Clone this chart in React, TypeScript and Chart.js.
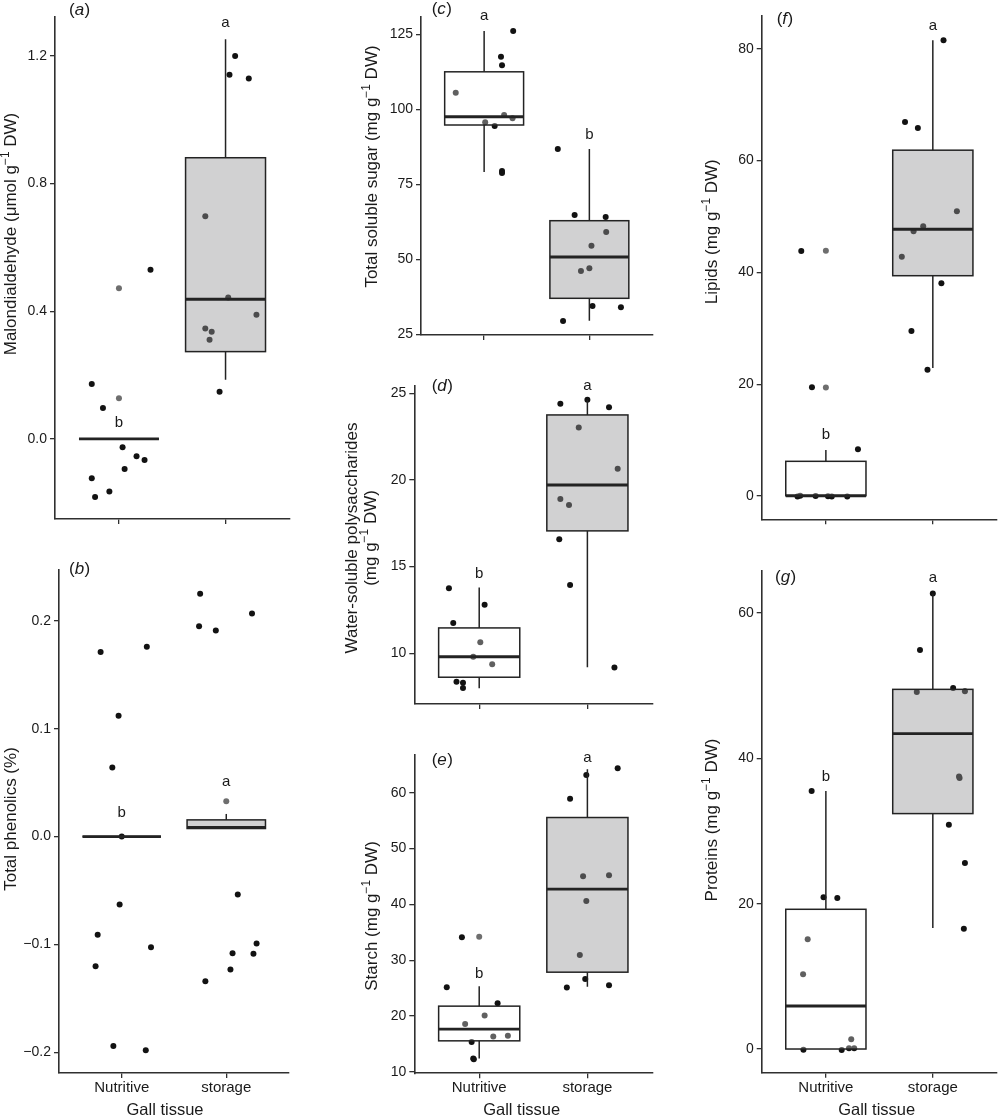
import React, { useEffect, useRef } from 'react';
import { Chart, registerables } from 'chart.js';

Chart.register(...registerables);

const FONT = '"Liberation Sans", Arial, Helvetica, sans-serif';
const INK = '#1a1a1a';
const AXIS_COLOR = '#303030';
const BOX_LINE = '#232323';
const POINT_COLOR = '#121212';
const OUTLIER_COLOR = '#6e6e6e';
const FILL_NUT = 'rgba(255,255,255,0.33)';
const FILL_STO = 'rgba(150,150,153,0.44)';
const BOX_WIDTH = 0.75;

const CATEGORIES = ['Nutritive', 'storage'];
const CATEGORY_POS = [1, 2];
const X_TITLE = 'Gall tissue';

// (a) Malondialdehyde
const A_NUT_X = [1.296, 0.745, 0.85, 1.034, 1.165, 1.24, 1.053, 0.745, 0.91, 0.776];
const A_NUT_Y = [0.53, 0.172, 0.097, -0.026, -0.054, -0.066, -0.094, -0.123, -0.165, -0.182];
const A_STO_X = [2.09, 2.037, 2.218, 1.81, 2.025, 2.29, 1.81, 1.87, 1.85, 1.944];
const A_STO_Y = [1.2, 1.141, 1.129, 0.698, 0.443, 0.389, 0.346, 0.336, 0.311, 0.148];
const A_OUT_X = [1, 1];
const A_OUT_Y = [0.472, 0.1275];
const A_BOX_NUT = [0, 0, 0, 0, 0];
const A_BOX_STO = [0.185, 0.2735, 0.4377, 0.881, 1.252];
const A_LETTERS = ['b', 'a'];
const A_LETTER_Y = [0.05, 1.305];
const A_Y_TICKS = [0, 0.4, 0.8, 1.2];
const A_Y_LABELS = ['0.0', '0.4', '0.8', '1.2'];

// (b) Total phenolics
const B_NUT_X = [0.798, 1.24, 0.97, 0.91, 1.0, 0.98, 0.77, 1.28, 0.75, 0.92, 1.23];
const B_NUT_Y = [0.171, 0.176, 0.112, 0.064, 0.0, -0.063, -0.091, -0.1025, -0.12, -0.194, -0.198];
const B_STO_X = [1.75, 2.246, 1.74, 1.9, 2.11, 2.29, 2.06, 2.26, 2.04, 1.8];
const B_STO_Y = [0.225, 0.2068, 0.195, 0.191, -0.0537, -0.099, -0.108, -0.1086, -0.123, -0.134];
const B_OUT_X = [2];
const B_OUT_Y = [0.0327];
const B_BOX_NUT = [0, 0, 0, 0, 0];
const B_BOX_STO = [0.0075, 0.0075, 0.0085, 0.0155, 0.021];
const B_LETTERS = ['b', 'a'];
const B_LETTER_Y = [0.022, 0.051];
const B_Y_TICKS = [-0.2, -0.1, 0, 0.1, 0.2];
const B_Y_LABELS = ['\u22120.2', '\u22120.1', '0.0', '0.1', '0.2'];

// (c) Total soluble sugar
const C_NUT_X = [1.276, 1.16, 1.17, 0.73, 1.19, 1.27, 1.01, 1.1, 1.17, 1.17];
const C_NUT_Y = [126.1, 117.5, 114.7, 105.5, 98.1, 97.0, 95.67, 94.4, 79.4, 78.8];
const C_STO_X = [1.7, 1.86, 2.155, 2.16, 2.02, 2.0, 1.92, 2.03, 2.3, 1.75];
const C_STO_Y = [86.8, 64.8, 64.1, 59.1, 54.5, 47.0, 46.1, 34.4, 34.0, 29.4];
const C_OUT_X: number[] = [];
const C_OUT_Y: number[] = [];
const C_BOX_NUT = [79.1, 94.77, 97.5, 112.5, 126.1];
const C_BOX_STO = [29.5, 37.0, 50.77, 62.87, 86.8];
const C_LETTERS = ['a', 'b'];
const C_LETTER_Y = [131.2, 91.6];
const C_Y_TICKS = [25, 50, 75, 100, 125];
const C_Y_LABELS = ['25', '50', '75', '100', '125'];

// (d) Water-soluble polysaccharides
const D_NUT_X = [0.72, 1.05, 0.76, 1.01, 0.945, 1.12, 0.79, 0.85, 0.85];
const D_NUT_Y = [13.75, 12.8, 11.75, 10.63, 9.8, 9.37, 8.36, 8.3, 8.0];
const D_STO_X = [1.75, 2.0, 2.2, 1.92, 2.28, 1.75, 1.83, 1.74, 1.84, 2.25];
const D_STO_Y = [24.4, 24.63, 24.19, 23.02, 20.65, 18.9, 18.56, 16.58, 13.94, 9.17];
const D_OUT_X: number[] = [];
const D_OUT_Y: number[] = [];
const D_BOX_NUT = [7.98, 8.615, 9.8, 11.46, 13.79];
const D_BOX_STO = [9.19, 17.06, 19.71, 23.75, 24.63];
const D_LETTERS = ['b', 'a'];
const D_LETTER_Y = [14.56, 25.4];
const D_Y_TICKS = [10, 15, 20, 25];
const D_Y_LABELS = ['10', '15', '20', '25'];

// (e) Starch
const E_NUT_X = [0.84, 0.7, 1.17, 1.05, 0.87, 1.13, 1.265, 0.93, 0.945, 0.95];
const E_NUT_Y = [34.1, 25.19, 22.33, 20.1, 18.6, 16.37, 16.47, 15.35, 12.43, 12.3];
const E_STO_X = [2.28, 1.99, 1.84, 1.96, 2.2, 1.99, 1.93, 1.98, 2.2, 1.81];
const E_STO_Y = [64.35, 63.15, 58.9, 45.03, 45.2, 40.6, 30.96, 26.67, 25.55, 25.14];
const E_OUT_X = [1];
const E_OUT_Y = [34.2];
const E_BOX_NUT = [12.43, 15.58, 17.67, 21.79, 25.37];
const E_BOX_STO = [25.24, 27.87, 42.74, 55.55, 64.2];
const E_LETTERS = ['b', 'a'];
const E_LETTER_Y = [27.6, 66.3];
const E_Y_TICKS = [10, 20, 30, 40, 50, 60];
const E_Y_LABELS = ['10', '20', '30', '40', '50', '60'];

// (f) Lipids
const F_NUT_X = [0.77, 0.87, 1.3, 0.735, 0.76, 0.904, 1.02, 1.055, 1.2];
const F_NUT_Y = [43.8, 19.45, 8.36, -0.1, 0.05, 0.0, -0.05, -0.1, -0.1];
const F_STO_X = [2.1, 1.74, 1.86, 2.225, 1.91, 1.82, 1.71, 2.08, 1.8, 1.95];
const F_STO_Y = [81.5, 66.9, 65.8, 50.95, 48.24, 47.37, 42.8, 38.06, 29.5, 22.6];
const F_OUT_X = [1, 1];
const F_OUT_Y = [43.87, 19.4];
const F_BOX_NUT = [0.05, 0.05, 0.05, 6.2, 8.24];
const F_BOX_STO = [22.9, 39.4, 47.7, 61.85, 81.5];
const F_LETTERS = ['b', 'a'];
const F_LETTER_Y = [10.9, 84.0];
const F_Y_TICKS = [0, 20, 40, 60, 80];
const F_Y_LABELS = ['0', '20', '40', '60', '80'];

// (g) Proteins
const G_NUT_X = [0.867, 0.978, 1.107, 0.83, 0.787, 1.237, 0.79, 1.148, 1.216, 1.265];
const G_NUT_Y = [35.5, 20.9, 20.8, 15.1, 10.3, 1.34, -0.1, -0.15, 0.1, 0.1];
const G_STO_X = [2.0, 1.88, 1.85, 2.19, 2.3, 2.25, 2.245, 2.15, 2.3, 2.29];
const G_STO_Y = [62.7, 54.9, 49.15, 49.7, 49.25, 37.3, 37.5, 30.85, 25.6, 16.55];
const G_OUT_X: number[] = [];
const G_OUT_Y: number[] = [];
const G_BOX_NUT = [0, 0, 5.91, 19.23, 35.5];
const G_BOX_STO = [16.66, 32.4, 43.4, 49.5, 62.7];
const G_LETTERS = ['b', 'a'];
const G_LETTER_Y = [37.4, 64.9];
const G_Y_TICKS = [0, 20, 40, 60];
const G_Y_LABELS = ['0', '20', '40', '60'];

const SUP = '\u22121';

interface PanelDef {
  key: string;
  left: number; top: number; width: number; height: number;
  plotLeft: number; plotTop: number; plotRight: number; plotBottom: number;
  xMin: number; xMax: number;
  yMin: number; yMax: number; yTicks: number[]; yLabels: string[];
  nutX: number[]; nutY: number[]; stoX: number[]; stoY: number[];
  outX: number[]; outY: number[];
  boxNut: number[]; boxSto: number[];
  letters: string[]; letterY: number[];
  title: string[][]; titleX: number[]; titleY: number;
  tag: string; tagX: number; tagY: number;
  showX: boolean; xTitleX?: number;
}

const PANELS: PanelDef[] = [
  {
    key: 'a', left: 0, top: 0, width: 300, height: 527,
    plotLeft: 55, plotTop: 17, plotRight: 289.5, plotBottom: 519,
    xMin: 0.4, xMax: 2.6, yMin: -0.251, yMax: 1.322, yTicks: A_Y_TICKS, yLabels: A_Y_LABELS,
    nutX: A_NUT_X, nutY: A_NUT_Y, stoX: A_STO_X, stoY: A_STO_Y, outX: A_OUT_X, outY: A_OUT_Y,
    boxNut: A_BOX_NUT, boxSto: A_BOX_STO, letters: A_LETTERS, letterY: A_LETTER_Y,
    title: [['Malondialdehyde (\u03bcmol g', SUP, ' DW)']], titleX: [9.8], titleY: 234,
    tag: 'a', tagX: 69, tagY: 10, showX: false,
  },
  {
    key: 'b', left: 0, top: 530, width: 300, height: 587,
    plotLeft: 59, plotTop: 570, plotRight: 289, plotBottom: 1073,
    xMin: 0.4, xMax: 2.6, yMin: -0.219, yMax: 0.247, yTicks: B_Y_TICKS, yLabels: B_Y_LABELS,
    nutX: B_NUT_X, nutY: B_NUT_Y, stoX: B_STO_X, stoY: B_STO_Y, outX: B_OUT_X, outY: B_OUT_Y,
    boxNut: B_BOX_NUT, boxSto: B_BOX_STO, letters: B_LETTERS, letterY: B_LETTER_Y,
    title: [['Total phenolics (%)']], titleX: [10.3], titleY: 819,
    tag: 'b', tagX: 69, tagY: 569, showX: true, xTitleX: 165,
  },
  {
    key: 'c', left: 330, top: 0, width: 330, height: 345,
    plotLeft: 421, plotTop: 16.7, plotRight: 652.5, plotBottom: 335,
    xMin: 0.4, xMax: 2.6, yMin: 24.77, yMax: 130.87, yTicks: C_Y_TICKS, yLabels: C_Y_LABELS,
    nutX: C_NUT_X, nutY: C_NUT_Y, stoX: C_STO_X, stoY: C_STO_Y, outX: C_OUT_X, outY: C_OUT_Y,
    boxNut: C_BOX_NUT, boxSto: C_BOX_STO, letters: C_LETTERS, letterY: C_LETTER_Y,
    title: [['Total soluble sugar (mg g', SUP, ' DW)']], titleX: [371.3], titleY: 166.5,
    tag: 'c', tagX: 431.7, tagY: 9, showX: false,
  },
  {
    key: 'd', left: 330, top: 345, width: 330, height: 365,
    plotLeft: 414.3, plotTop: 386, plotRight: 652.3, plotBottom: 704,
    xMin: 0.4, xMax: 2.6, yMin: 7.07, yMax: 25.42, yTicks: D_Y_TICKS, yLabels: D_Y_LABELS,
    nutX: D_NUT_X, nutY: D_NUT_Y, stoX: D_STO_X, stoY: D_STO_Y, outX: D_OUT_X, outY: D_OUT_Y,
    boxNut: D_BOX_NUT, boxSto: D_BOX_STO, letters: D_LETTERS, letterY: D_LETTER_Y,
    title: [['Water-soluble polysaccharides'], ['(mg g', SUP, ' DW)']], titleX: [351.3, 369.6], titleY: 538,
    tag: 'd', tagX: 431.7, tagY: 386.7, showX: false,
  },
  {
    key: 'e', left: 330, top: 710, width: 330, height: 407,
    plotLeft: 414.3, plotTop: 755, plotRight: 652.3, plotBottom: 1073.3,
    xMin: 0.4, xMax: 2.6, yMin: 9.77, yMax: 66.74, yTicks: E_Y_TICKS, yLabels: E_Y_LABELS,
    nutX: E_NUT_X, nutY: E_NUT_Y, stoX: E_STO_X, stoY: E_STO_Y, outX: E_OUT_X, outY: E_OUT_Y,
    boxNut: E_BOX_NUT, boxSto: E_BOX_STO, letters: E_LETTERS, letterY: E_LETTER_Y,
    title: [['Starch (mg g', SUP, ' DW)']], titleX: [371.3], titleY: 916,
    tag: 'e', tagX: 431.7, tagY: 760.7, showX: true, xTitleX: 521.7,
  },
  {
    key: 'f', left: 660, top: 0, width: 340, height: 530,
    plotLeft: 761.7, plotTop: 16, plotRight: 999.5, plotBottom: 519.3,
    xMin: 0.4, xMax: 2.6, yMin: -4.17, yMax: 85.85, yTicks: F_Y_TICKS, yLabels: F_Y_LABELS,
    nutX: F_NUT_X, nutY: F_NUT_Y, stoX: F_STO_X, stoY: F_STO_Y, outX: F_OUT_X, outY: F_OUT_Y,
    boxNut: F_BOX_NUT, boxSto: F_BOX_STO, letters: F_LETTERS, letterY: F_LETTER_Y,
    title: [['Lipids (mg g', SUP, ' DW)']], titleX: [711.3], titleY: 231.7,
    tag: 'f', tagX: 776.7, tagY: 19, showX: false,
  },
  {
    key: 'g', left: 660, top: 530, width: 340, height: 587,
    plotLeft: 761.7, plotTop: 570.7, plotRight: 999.5, plotBottom: 1072.7,
    xMin: 0.4, xMax: 2.6, yMin: -3.26, yMax: 65.83, yTicks: G_Y_TICKS, yLabels: G_Y_LABELS,
    nutX: G_NUT_X, nutY: G_NUT_Y, stoX: G_STO_X, stoY: G_STO_Y, outX: G_OUT_X, outY: G_OUT_Y,
    boxNut: G_BOX_NUT, boxSto: G_BOX_STO, letters: G_LETTERS, letterY: G_LETTER_Y,
    title: [['Proteins (mg g', SUP, ' DW)']], titleX: [711.3], titleY: 820,
    tag: 'g', tagX: 775, tagY: 577.5, showX: true, xTitleX: 876.7,
  },
];

function richWidth(ctx: CanvasRenderingContext2D, segs: string[], size: number) {
  let w = 0;
  segs.forEach((s, i) => {
    ctx.font = `${i % 2 === 1 ? size * 0.7 : size}px ${FONT}`;
    w += ctx.measureText(s).width;
  });
  return w;
}

function drawRich(ctx: CanvasRenderingContext2D, segs: string[], x0: number, baseline: number, size: number) {
  let x = x0;
  segs.forEach((s, i) => {
    const sup = i % 2 === 1;
    ctx.font = `${sup ? size * 0.7 : size}px ${FONT}`;
    ctx.fillText(s, x, sup ? baseline - size * 0.42 : baseline);
    x += ctx.measureText(s).width;
  });
}

function drawBox(ctx: CanvasRenderingContext2D, xs: any, ys: any, cat: number, stats: number[], fill: string) {
  const [lo, q1, med, q3, hi] = stats;
  const xc = xs.getPixelForValue(cat);
  const x0 = xs.getPixelForValue(cat - BOX_WIDTH / 2);
  const x1 = xs.getPixelForValue(cat + BOX_WIDTH / 2);
  const yLo = ys.getPixelForValue(lo);
  const yQ1 = ys.getPixelForValue(q1);
  const yMed = ys.getPixelForValue(med);
  const yQ3 = ys.getPixelForValue(q3);
  const yHi = ys.getPixelForValue(hi);
  ctx.save();
  ctx.strokeStyle = BOX_LINE;
  ctx.lineWidth = 1.5;
  ctx.beginPath();
  ctx.moveTo(xc, yQ3); ctx.lineTo(xc, yHi);
  ctx.moveTo(xc, yQ1); ctx.lineTo(xc, yLo);
  ctx.stroke();
  ctx.fillStyle = fill;
  ctx.fillRect(x0, yQ3, x1 - x0, yQ1 - yQ3);
  ctx.strokeRect(x0, yQ3, x1 - x0, yQ1 - yQ3);
  ctx.lineWidth = 2.9;
  ctx.beginPath();
  ctx.moveTo(x0, yMed); ctx.lineTo(x1, yMed);
  ctx.stroke();
  ctx.restore();
}

function makeConfig(p: PanelDef): any {
  const yAxisW = p.plotLeft - p.left;
  const xAxisH = p.top + p.height - p.plotBottom;
  const toCx = (x: number) => x - p.left;
  const toCy = (y: number) => y - p.top;
  const pts = (xs: number[], ys: number[]) => xs.map((x, i) => ({ x, y: ys[i] }));
  const pointStyle = (color: string) => ({
    pointRadius: 3,
    pointHoverRadius: 3,
    pointBackgroundColor: color,
    pointBorderWidth: 0,
    pointBorderColor: color,
    showLine: false,
    clip: false,
  });

  const plugin = {
    id: 'boxplot_' + p.key,
    afterDatasetsDraw(chart: any) {
      const { ctx, scales } = chart;
      drawBox(ctx, scales.x, scales.y, CATEGORY_POS[0], p.boxNut, FILL_NUT);
      drawBox(ctx, scales.x, scales.y, CATEGORY_POS[1], p.boxSto, FILL_STO);
    },
    afterDraw(chart: any) {
      const { ctx, scales } = chart;
      ctx.save();
      ctx.fillStyle = INK;
      ctx.font = `15px ${FONT}`;
      ctx.textAlign = 'center';
      ctx.textBaseline = 'middle';
      p.letters.forEach((L, i) => {
        ctx.fillText(L, scales.x.getPixelForValue(CATEGORY_POS[i]), scales.y.getPixelForValue(p.letterY[i]));
      });
      ctx.textAlign = 'left';
      let tx = toCx(p.tagX);
      const ty = toCy(p.tagY);
      ctx.font = `17px ${FONT}`;
      ctx.fillText('(', tx, ty); tx += ctx.measureText('(').width;
      ctx.font = `italic 17px ${FONT}`;
      ctx.fillText(p.tag, tx, ty); tx += ctx.measureText(p.tag).width + 0.5;
      ctx.font = `17px ${FONT}`;
      ctx.fillText(')', tx, ty);
      ctx.textBaseline = 'alphabetic';
      p.title.forEach((segs, j) => {
        ctx.save();
        ctx.translate(toCx(p.titleX[j]), toCy(p.titleY));
        ctx.rotate(-Math.PI / 2);
        const w = richWidth(ctx, segs, 17);
        drawRich(ctx, segs, -w / 2, 6, 17);
        ctx.restore();
      });
      if (p.xTitleX !== undefined) {
        ctx.font = `16.5px ${FONT}`;
        ctx.textAlign = 'center';
        ctx.fillText(X_TITLE, toCx(p.xTitleX), toCy(1115));
      }
      ctx.restore();
    },
  };

  return {
    type: 'scatter',
    data: {
      datasets: [
        { data: pts(p.nutX, p.nutY), ...pointStyle(POINT_COLOR) },
        { data: pts(p.stoX, p.stoY), ...pointStyle(POINT_COLOR) },
        { data: pts(p.outX, p.outY), ...pointStyle(OUTLIER_COLOR) },
      ],
    },
    options: {
      responsive: false,
      animation: false,
      devicePixelRatio: 1,
      events: [],
      layout: {
        padding: {
          left: 0,
          top: p.plotTop - p.top,
          right: p.left + p.width - p.plotRight,
          bottom: 0,
        },
      },
      plugins: { legend: { display: false }, tooltip: { enabled: false }, title: { display: false } },
      scales: {
        x: {
          type: 'linear',
          position: 'bottom',
          min: p.xMin,
          max: p.xMax,
          afterBuildTicks: (s: any) => { s.ticks = CATEGORY_POS.map((v) => ({ value: v })); },
          afterFit: (s: any) => { s.height = xAxisH; s.paddingLeft = 0; s.paddingRight = 0; },
          ticks: {
            display: p.showX,
            autoSkip: false,
            maxRotation: 0,
            padding: 1,
            color: INK,
            font: { family: FONT, size: 15 },
            callback: (_v: any, i: number) => CATEGORIES[i],
          },
          grid: { display: true, drawOnChartArea: false, drawTicks: true, tickLength: 5, color: AXIS_COLOR, lineWidth: 1.3 },
          border: { display: true, color: AXIS_COLOR, width: 1.6 },
        },
        y: {
          type: 'linear',
          position: 'left',
          min: p.yMin,
          max: p.yMax,
          afterBuildTicks: (s: any) => { s.ticks = p.yTicks.map((v) => ({ value: v })); },
          afterFit: (s: any) => { s.width = yAxisW; s.paddingTop = 0; s.paddingBottom = 0; },
          ticks: {
            autoSkip: false,
            padding: 3,
            color: INK,
            font: { family: FONT, size: 14 },
            callback: (_v: any, i: number) => p.yLabels[i],
          },
          grid: { display: true, drawOnChartArea: false, drawTicks: true, tickLength: 5, color: AXIS_COLOR, lineWidth: 1.3 },
          border: { display: true, color: AXIS_COLOR, width: 1.6 },
        },
      },
    },
    plugins: [plugin],
  };
}

function Panel({ p }: { p: PanelDef }) {
  const ref = useRef<HTMLCanvasElement>(null);
  useEffect(() => {
    const c = ref.current;
    if (!c) return;
    const chart = new Chart(c, makeConfig(p));
    return () => chart.destroy();
  }, [p]);
  return (
    <canvas
      ref={ref}
      width={p.width}
      height={p.height}
      style={{ position: 'absolute', left: p.left, top: p.top, width: p.width, height: p.height }}
    />
  );
}

export default function App() {
  return (
    <div style={{ position: 'absolute', left: 0, top: 0, width: 1000, height: 1117, background: '#ffffff', overflow: 'hidden' }}>
      {PANELS.map((p) => (
        <Panel key={p.key} p={p} />
      ))}
    </div>
  );
}
